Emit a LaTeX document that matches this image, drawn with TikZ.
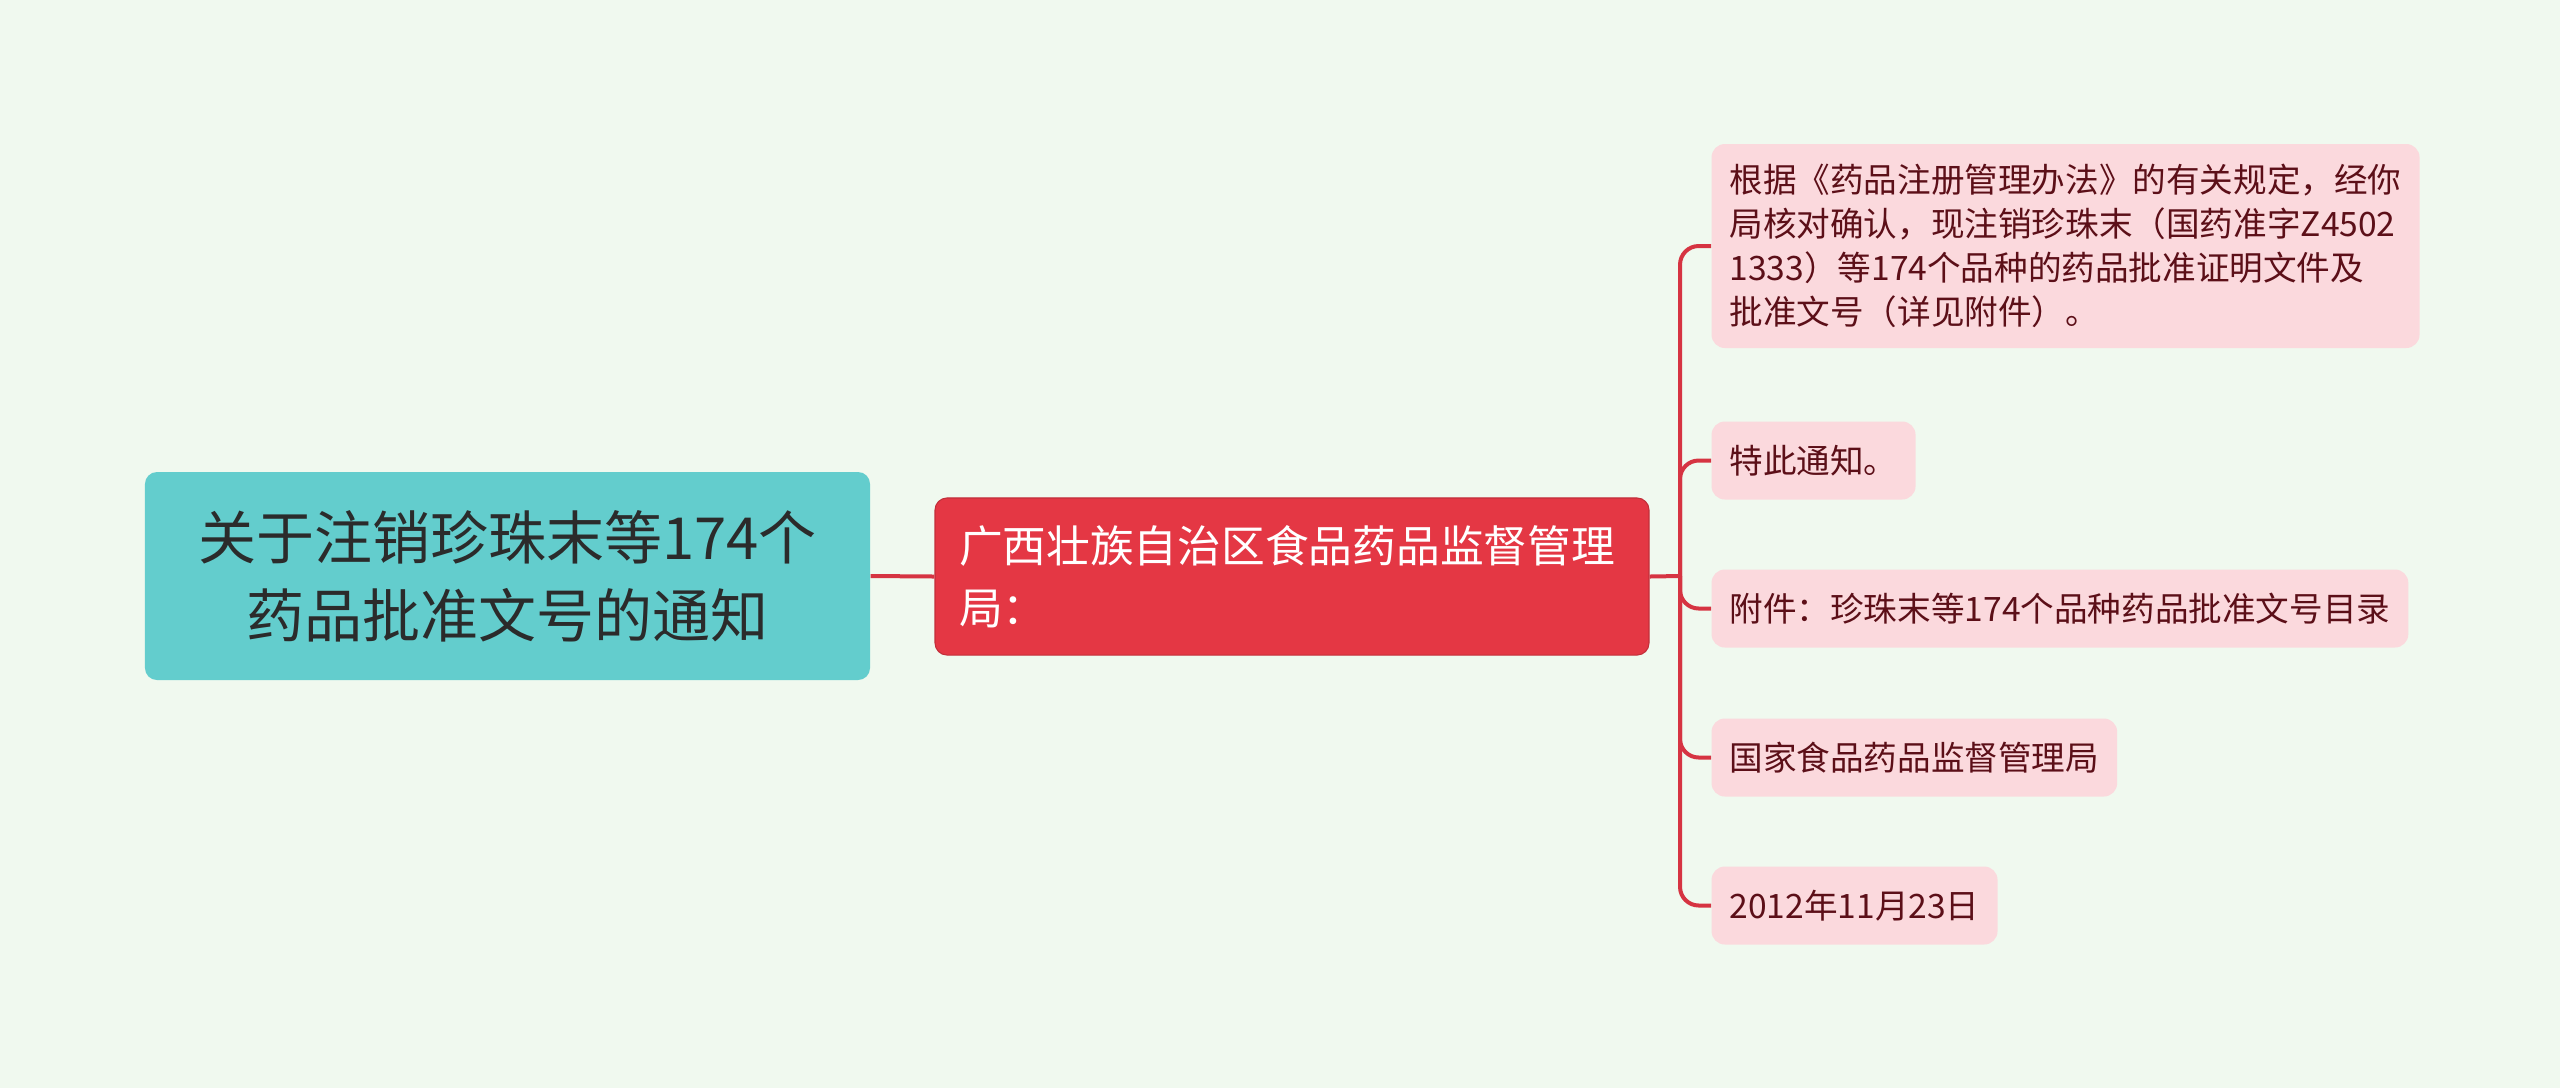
\documentclass[tikz,border=0pt]{standalone}
\usepackage{fontspec}
\setmainfont{Noto Sans CJK SC}
\definecolor{bg}{HTML}{F0F9EF}
\definecolor{rootfill}{HTML}{63CDCD}
\definecolor{roottext}{HTML}{2B2B2B}
\definecolor{mainfill}{HTML}{E43744}
\definecolor{leaffill}{HTML}{FBD9DD}
\definecolor{leaftext}{HTML}{5C0F18}
\definecolor{conn}{HTML}{D63442}
\tikzset{
  rootbox/.style={fill=rootfill, rounded corners=4.5pt, minimum width=271.9pt, minimum height=78pt,
    align=center, text=roottext, font=\fontsize{21.75pt}{29.25pt}\selectfont, inner sep=0pt},
  mainbox/.style={fill=mainfill, draw=mainfill!85!black, line width=0.4pt, rounded corners=4.5pt, minimum height=58.9pt,
    align=left, text=white, text width=249.75pt, inner xsep=9pt, inner ysep=0pt,
    font=\fontsize{16.4pt}{23.25pt}\selectfont},
  leafbox/.style={fill=leaffill, rounded corners=5pt, minimum height=29.25pt, anchor=west,
    align=left, text=leaftext, inner xsep=6.75pt, inner ysep=0pt,
    font=\fontsize{12.6pt}{16.5pt}\selectfont},
  connline/.style={draw=conn, line width=1.5pt},
  branch/.style={connline, rounded corners=7pt}
}
\begin{document}
\begin{tikzpicture}[x=0.375pt,y=-0.375pt]
\fill[bg] (0,0) rectangle (2560,1088);
\useasboundingbox (0,0) rectangle (2560,1088);
\node[rootbox] (root) at (507.5,576) {关于注销珍珠末等174个\\药品批准文号的通知};
\node[mainbox, minimum width=267.75pt] (main) at (1292,576.5) {广西壮族自治区食品药品监督管理\\局：};
\node[leafbox, text width=252pt, minimum height=76.5pt] (c1) at (1711,246) {根据《药品注册管理办法》的有关规定，经你\\局核对确认，现注销珍珠末（国药准字Z4502\\1333）等174个品种的药品批准证明文件及\\批准文号（详见附件）。};
\node[leafbox] (c2) at (1711,460.5) {特此通知。};
\node[leafbox] (c3) at (1711,608.5) {附件：珍珠末等174个品种药品批准文号目录};
\node[leafbox] (c4) at (1711,757.5) {国家食品药品监督管理局};
\node[leafbox] (c5) at (1711,905.5) {2012年11月23日};
\coordinate (T) at (1680,576);
\draw[connline] (root.east) -- (main.west);
\draw[connline] (main.east) -- (T);
\foreach \c in {c1,c2,c3,c4,c5}{
  \draw[branch] (T) |- (\c.west);
}
\end{tikzpicture}
\end{document}
